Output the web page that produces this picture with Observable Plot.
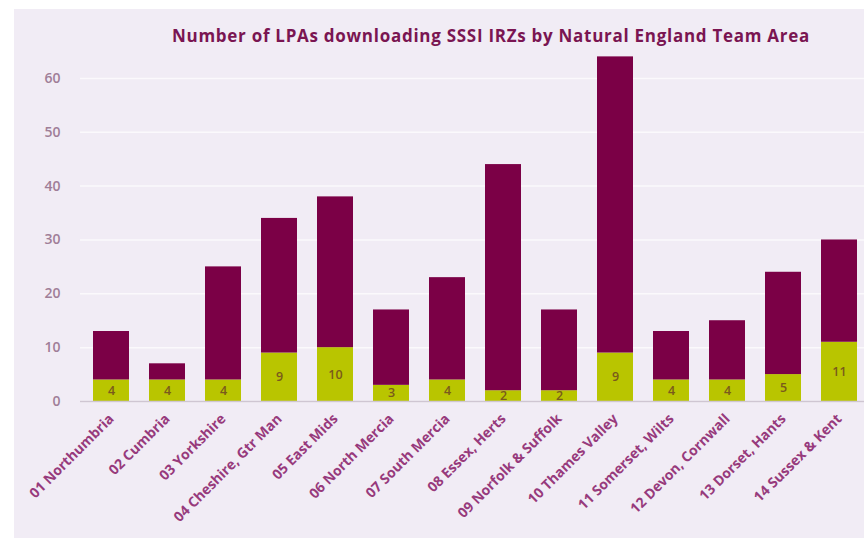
<!DOCTYPE html>
<html>
<head>
<meta charset="utf-8">
<script src="https://cdn.jsdelivr.net/npm/d3@7"></script>
<script src="https://cdn.jsdelivr.net/npm/@observablehq/plot@0.6"></script>
<style>
  html, body { margin: 0; padding: 0; background: #ffffff; width: 864px; height: 538px; overflow: hidden; }
  #panel { position: absolute; left: 14px; top: 9px; width: 850px; height: 529px; background: #f1ecf5; }
  #title { position: absolute; left: 172px; top: 24px; white-space: nowrap;
           font-family: "Open Sans", Lato, sans-serif; font-weight: 700; font-size: 17px; color: #7a1552; }
  #chart { position: absolute; left: 0; top: 0; }
</style>
</head>
<body>
<div id="panel"></div>
<div id="title">Number of LPAs downloading SSSI IRZs by Natural England Team Area</div>
<div id="chart"></div>
<script>
const areas = ["01 Northumbria", "02 Cumbria", "03 Yorkshire", "04 Cheshire, Gtr Man", "05 East Mids",
  "06 North Mercia", "07 South Mercia", "08 Essex, Herts", "09 Norfolk & Suffolk", "10 Thames Valley",
  "11 Somerset, Wilts", "12 Devon, Cornwall", "13 Dorset, Hants", "14 Sussex & Kent"];
const lowerValues = [4, 4, 4, 9, 10, 3, 4, 2, 2, 9, 4, 4, 5, 11];
const upperValues = [9, 3, 21, 25, 28, 14, 19, 42, 15, 55, 9, 11, 19, 19];
const yTicks = [0, 10, 20, 30, 40, 50, 60];

// fit title to reference width
const t = document.getElementById("title");
const targetW = 638;
const w0 = t.getBoundingClientRect().width;
const n = t.textContent.length;
t.style.letterSpacing = ((targetW - w0) / n) + "px";

const rows = [];
areas.forEach((a, i) => {
  rows.push({area: a, part: "lower", value: lowerValues[i]});
  rows.push({area: a, part: "upper", value: upperValues[i]});
});
const lowerRows = areas.map((a, i) => ({area: a, value: lowerValues[i]}));

const chart = Plot.plot({
  width: 864,
  height: 538,
  marginLeft: 80,
  marginRight: 0,
  marginTop: 51,
  marginBottom: 137,
  style: {background: "transparent", fontFamily: "'Open Sans', Lato, sans-serif", overflow: "visible"},
  x: {domain: areas, range: [80.6, 868.8], paddingInner: 0.36, paddingOuter: 0.18, label: null},
  y: {domain: [0, 65], label: null},
  color: {domain: ["lower", "upper"], range: ["#b9c500", "#7b0046"]},
  marks: [
    Plot.gridY(yTicks, {stroke: "#ffffff", strokeOpacity: 0.7, strokeWidth: 1.5}),
    Plot.axisY(yTicks, {tickSize: 0, tickPadding: 20, fontSize: 14, fill: "#a07e98", fontWeight: 600}),
    Plot.axisX({tickSize: 0, tickPadding: 15, tickRotate: -45, fontSize: 14, fontWeight: 700, fill: "#973a7c"}),
    Plot.barY(rows, {x: "area", y: "value", fill: "part", order: ["lower", "upper"]}),
    Plot.text(lowerRows, {x: "area", y: d => d.value / 2, text: d => String(d.value), fill: "#7a5a1c", fontSize: 12.5, fontWeight: 600}),
    Plot.ruleY([0], {stroke: "#cfc6d2", strokeWidth: 1.5}),
    Plot.ruleX({length: 1}, {frameAnchor: "left", y1: 0, y2: 65.5, stroke: "#cfc6d2", strokeWidth: 1.5})
  ]
});
document.getElementById("chart").appendChild(chart);
</script>
</body>
</html>
